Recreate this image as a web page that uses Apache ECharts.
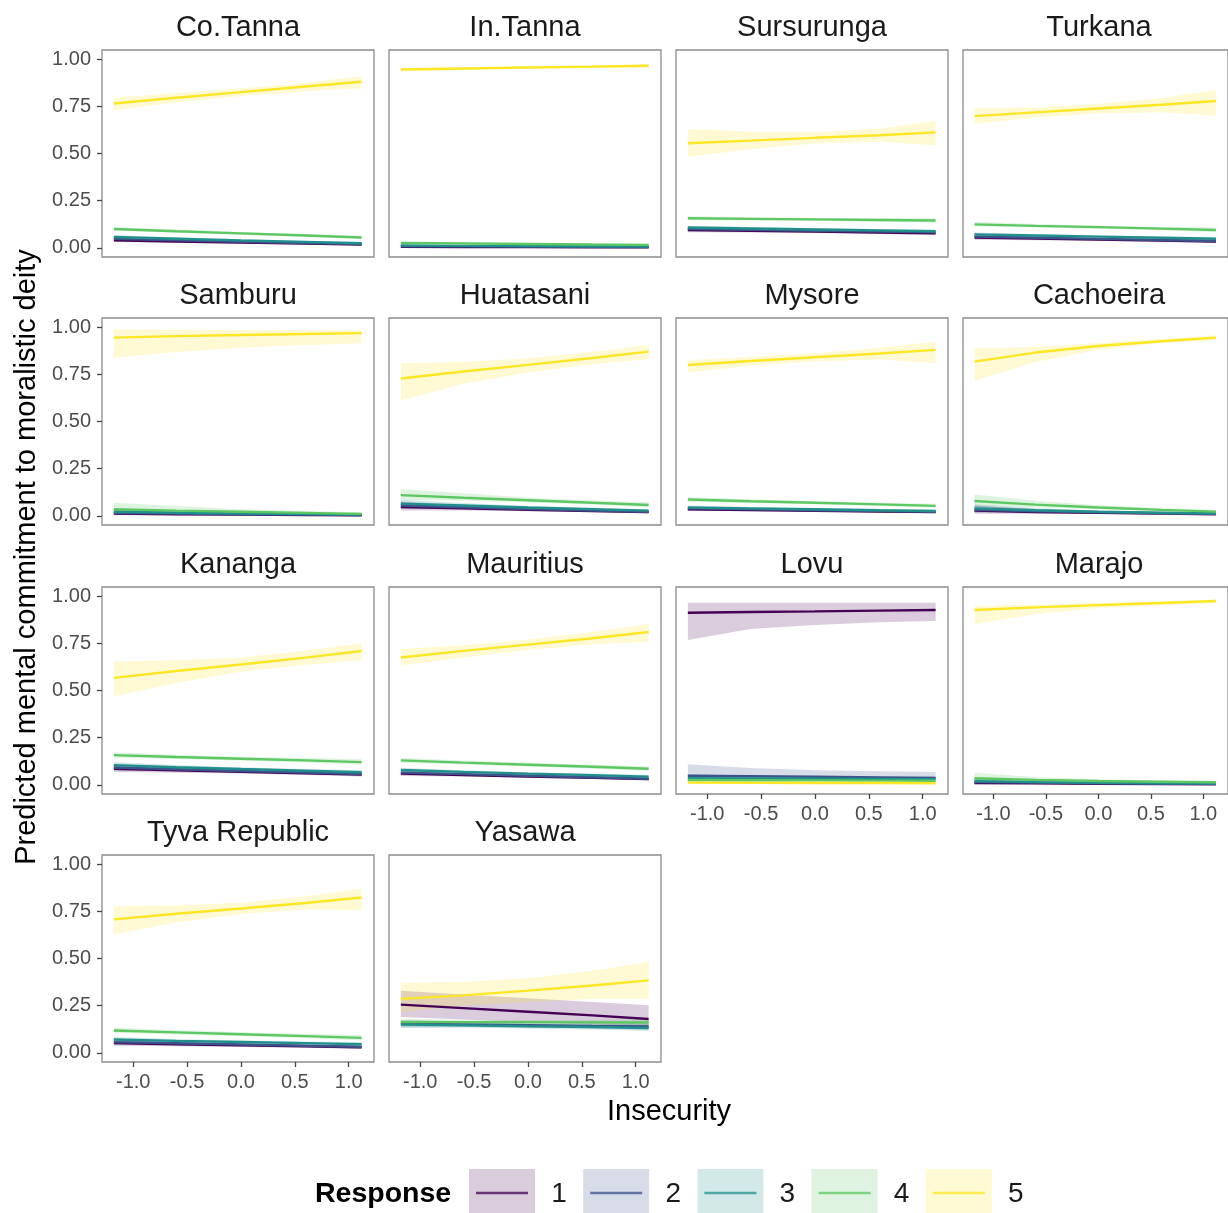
<!DOCTYPE html>
<html>
<head>
<meta charset="utf-8">
<title>Predicted mental commitment to moralistic deity</title>
<script src="https://cdn.jsdelivr.net/npm/echarts@6/dist/echarts.min.js"></script>
<style>
  html, body { margin: 0; padding: 0; background: #ffffff; }
  #chart { width: 1228px; height: 1213px; }
</style>
</head>
<body>
<div id="chart"></div>
<script>
// Field sites, one facet each (row-major, four per row)
const sites = ['Co.Tanna', 'In.Tanna', 'Sursurunga', 'Turkana',
  'Samburu', 'Huatasani', 'Mysore', 'Cachoeira',
  'Kananga', 'Mauritius', 'Lovu', 'Marajo',
  'Tyva Republic', 'Yasawa'];

// Insecurity values at which predictions are evaluated
const insecurity = [-1.18, -0.6, 0, 0.6, 1.12];

const responses = ['1', '2', '3', '4', '5'];
const responseColors = ['#440154', '#3B528B', '#21908C', '#5DC863', '#FDE725'];

const yTicks = [0, 0.25, 0.5, 0.75, 1];
const xTicks = [-1, -0.5, 0, 0.5, 1];

// Response 1: predicted probability, lower and upper bound (one row per site)
const fitR1 = [
  [0.040, 0.034, 0.028, 0.023, 0.018], [0.006, 0.005, 0.005, 0.004, 0.004],
  [0.095, 0.091, 0.087, 0.082, 0.078], [0.055, 0.050, 0.044, 0.039, 0.034],
  [0.012, 0.009, 0.007, 0.005, 0.004], [0.047, 0.040, 0.033, 0.026, 0.020],
  [0.035, 0.031, 0.027, 0.023, 0.020], [0.028, 0.021, 0.016, 0.012, 0.009],
  [0.085, 0.077, 0.069, 0.062, 0.055], [0.060, 0.052, 0.045, 0.038, 0.031],
  [0.912, 0.916, 0.919, 0.923, 0.926], [0.010, 0.008, 0.006, 0.005, 0.004],
  [0.052, 0.046, 0.040, 0.035, 0.030], [0.256, 0.237, 0.218, 0.199, 0.180]
];
const loR1 = [
  [0.031, 0.027, 0.023, 0.018, 0.013], [0.002, 0.002, 0.002, 0.002, 0.001],
  [0.083, 0.082, 0.079, 0.074, 0.067], [0.043, 0.041, 0.037, 0.032, 0.026],
  [0.003, 0.003, 0.003, 0.002, 0.001], [0.029, 0.029, 0.025, 0.019, 0.013],
  [0.026, 0.025, 0.022, 0.018, 0.014], [0.011, 0.011, 0.010, 0.008, 0.005],
  [0.068, 0.065, 0.060, 0.053, 0.044], [0.047, 0.044, 0.038, 0.031, 0.024],
  [0.768, 0.825, 0.847, 0.861, 0.868], [0.003, 0.003, 0.003, 0.002, 0.002],
  [0.038, 0.036, 0.032, 0.027, 0.021], [0.190, 0.177, 0.163, 0.150, 0.138]
];
const hiR1 = [
  [0.050, 0.041, 0.034, 0.028, 0.024], [0.013, 0.010, 0.009, 0.008, 0.008],
  [0.107, 0.100, 0.095, 0.091, 0.090], [0.068, 0.060, 0.052, 0.047, 0.044],
  [0.035, 0.022, 0.015, 0.011, 0.010], [0.072, 0.055, 0.042, 0.034, 0.029],
  [0.046, 0.038, 0.033, 0.029, 0.027], [0.055, 0.036, 0.025, 0.019, 0.016],
  [0.104, 0.090, 0.078, 0.071, 0.066], [0.075, 0.061, 0.052, 0.045, 0.039],
  [0.965, 0.965, 0.965, 0.965, 0.965], [0.030, 0.019, 0.013, 0.010, 0.009],
  [0.068, 0.057, 0.049, 0.043, 0.039], [0.329, 0.310, 0.290, 0.270, 0.253]
];

// Response 2
const fitR2 = [
  [0.048, 0.040, 0.033, 0.026, 0.020], [0.009, 0.008, 0.007, 0.006, 0.005],
  [0.100, 0.096, 0.091, 0.087, 0.083], [0.060, 0.054, 0.048, 0.042, 0.037],
  [0.016, 0.012, 0.009, 0.007, 0.005], [0.055, 0.046, 0.037, 0.029, 0.022],
  [0.040, 0.035, 0.030, 0.026, 0.022], [0.033, 0.025, 0.019, 0.014, 0.011],
  [0.092, 0.083, 0.074, 0.066, 0.058], [0.065, 0.057, 0.049, 0.041, 0.033],
  [0.049, 0.046, 0.043, 0.040, 0.037], [0.015, 0.012, 0.009, 0.007, 0.006],
  [0.057, 0.051, 0.045, 0.038, 0.032], [0.155, 0.151, 0.147, 0.143, 0.140]
];
const loR2 = [
  [0.040, 0.034, 0.028, 0.021, 0.015], [0.005, 0.005, 0.004, 0.003, 0.003],
  [0.090, 0.088, 0.085, 0.080, 0.074], [0.050, 0.047, 0.042, 0.036, 0.030],
  [0.007, 0.006, 0.005, 0.004, 0.002], [0.039, 0.036, 0.030, 0.023, 0.016],
  [0.032, 0.029, 0.025, 0.021, 0.017], [0.017, 0.016, 0.014, 0.010, 0.007],
  [0.077, 0.072, 0.066, 0.058, 0.048], [0.054, 0.049, 0.042, 0.034, 0.026],
  [0.025, 0.028, 0.028, 0.027, 0.024], [0.006, 0.006, 0.005, 0.004, 0.003],
  [0.045, 0.042, 0.037, 0.031, 0.024], [0.135, 0.137, 0.135, 0.130, 0.123]
];
const hiR2 = [
  [0.057, 0.047, 0.039, 0.031, 0.026], [0.014, 0.012, 0.010, 0.009, 0.008],
  [0.110, 0.104, 0.098, 0.094, 0.092], [0.071, 0.062, 0.055, 0.049, 0.045],
  [0.034, 0.023, 0.016, 0.012, 0.010], [0.076, 0.059, 0.045, 0.036, 0.030],
  [0.050, 0.042, 0.036, 0.032, 0.029], [0.055, 0.037, 0.026, 0.020, 0.017],
  [0.108, 0.095, 0.083, 0.075, 0.069], [0.077, 0.066, 0.056, 0.049, 0.042],
  [0.110, 0.090, 0.078, 0.072, 0.068], [0.034, 0.022, 0.015, 0.011, 0.010],
  [0.071, 0.061, 0.053, 0.046, 0.042], [0.175, 0.166, 0.159, 0.156, 0.157]
];

// Response 3
const fitR3 = [
  [0.058, 0.049, 0.040, 0.032, 0.025], [0.013, 0.011, 0.010, 0.009, 0.008],
  [0.108, 0.103, 0.098, 0.093, 0.088], [0.072, 0.066, 0.060, 0.054, 0.049],
  [0.022, 0.017, 0.013, 0.010, 0.007], [0.065, 0.055, 0.045, 0.036, 0.028],
  [0.045, 0.040, 0.035, 0.030, 0.026], [0.040, 0.030, 0.022, 0.017, 0.013],
  [0.105, 0.094, 0.084, 0.075, 0.067], [0.079, 0.069, 0.060, 0.052, 0.044],
  [0.035, 0.034, 0.033, 0.032, 0.031], [0.020, 0.015, 0.011, 0.009, 0.007],
  [0.071, 0.064, 0.058, 0.052, 0.046], [0.150, 0.146, 0.141, 0.137, 0.132]
];
const loR3 = [
  [0.050, 0.043, 0.035, 0.027, 0.020], [0.009, 0.008, 0.007, 0.006, 0.005],
  [0.099, 0.096, 0.092, 0.086, 0.079], [0.063, 0.059, 0.054, 0.047, 0.041],
  [0.012, 0.011, 0.009, 0.007, 0.004], [0.048, 0.044, 0.038, 0.030, 0.021],
  [0.037, 0.034, 0.030, 0.025, 0.020], [0.024, 0.021, 0.017, 0.012, 0.008],
  [0.090, 0.083, 0.076, 0.066, 0.056], [0.068, 0.061, 0.053, 0.045, 0.036],
  [0.020, 0.023, 0.024, 0.023, 0.021], [0.010, 0.009, 0.007, 0.005, 0.004],
  [0.059, 0.055, 0.050, 0.044, 0.037], [0.133, 0.133, 0.130, 0.124, 0.116]
];
const hiR3 = [
  [0.067, 0.056, 0.046, 0.037, 0.031], [0.018, 0.015, 0.013, 0.012, 0.011],
  [0.118, 0.111, 0.105, 0.100, 0.097], [0.082, 0.074, 0.067, 0.061, 0.058],
  [0.040, 0.028, 0.020, 0.015, 0.012], [0.086, 0.068, 0.053, 0.043, 0.036],
  [0.055, 0.047, 0.041, 0.036, 0.033], [0.062, 0.042, 0.029, 0.023, 0.020],
  [0.121, 0.106, 0.093, 0.085, 0.079], [0.091, 0.078, 0.067, 0.060, 0.053],
  [0.058, 0.048, 0.044, 0.043, 0.044], [0.038, 0.025, 0.017, 0.013, 0.011],
  [0.085, 0.074, 0.066, 0.060, 0.056], [0.168, 0.160, 0.153, 0.150, 0.149]
];

// Response 4
const fitR4 = [
  [0.100, 0.088, 0.077, 0.066, 0.055], [0.027, 0.024, 0.021, 0.018, 0.016],
  [0.157, 0.154, 0.151, 0.148, 0.145], [0.125, 0.117, 0.110, 0.102, 0.095],
  [0.035, 0.028, 0.022, 0.016, 0.011], [0.110, 0.096, 0.083, 0.070, 0.058],
  [0.087, 0.078, 0.070, 0.061, 0.053], [0.079, 0.060, 0.045, 0.032, 0.023],
  [0.158, 0.148, 0.139, 0.130, 0.121], [0.130, 0.118, 0.107, 0.096, 0.086],
  [0.026, 0.025, 0.024, 0.023, 0.022], [0.035, 0.027, 0.021, 0.017, 0.014],
  [0.119, 0.109, 0.099, 0.089, 0.080], [0.164, 0.163, 0.163, 0.162, 0.161]
];
const loR4 = [
  [0.091, 0.080, 0.070, 0.059, 0.048], [0.022, 0.020, 0.018, 0.015, 0.012],
  [0.146, 0.145, 0.143, 0.139, 0.134], [0.113, 0.108, 0.102, 0.093, 0.083],
  [0.020, 0.018, 0.015, 0.011, 0.007], [0.085, 0.080, 0.072, 0.060, 0.046],
  [0.075, 0.069, 0.062, 0.053, 0.043], [0.055, 0.045, 0.035, 0.025, 0.016],
  [0.144, 0.137, 0.129, 0.119, 0.107], [0.117, 0.108, 0.098, 0.086, 0.074],
  [0.017, 0.019, 0.019, 0.018, 0.016], [0.020, 0.018, 0.015, 0.012, 0.009],
  [0.105, 0.098, 0.089, 0.078, 0.066], [0.148, 0.151, 0.152, 0.149, 0.143]
];
const hiR4 = [
  [0.110, 0.097, 0.085, 0.074, 0.063], [0.033, 0.029, 0.025, 0.022, 0.020],
  [0.168, 0.163, 0.159, 0.157, 0.157], [0.138, 0.127, 0.118, 0.112, 0.108],
  [0.070, 0.052, 0.035, 0.026, 0.020], [0.142, 0.120, 0.097, 0.082, 0.072],
  [0.100, 0.088, 0.078, 0.070, 0.064], [0.114, 0.080, 0.057, 0.042, 0.032],
  [0.173, 0.160, 0.149, 0.142, 0.136], [0.144, 0.129, 0.117, 0.107, 0.099],
  [0.038, 0.033, 0.030, 0.029, 0.029], [0.065, 0.042, 0.030, 0.023, 0.020],
  [0.134, 0.121, 0.110, 0.101, 0.095], [0.181, 0.176, 0.174, 0.176, 0.180]
];

// Response 5
const fitR5 = [
  [0.765, 0.795, 0.825, 0.855, 0.880], [0.945, 0.950, 0.955, 0.960, 0.965],
  [0.554, 0.568, 0.583, 0.597, 0.612], [0.698, 0.718, 0.738, 0.758, 0.778],
  [0.944, 0.952, 0.958, 0.963, 0.968], [0.728, 0.765, 0.800, 0.836, 0.870],
  [0.799, 0.820, 0.840, 0.860, 0.879], [0.817, 0.865, 0.900, 0.925, 0.944],
  [0.567, 0.603, 0.638, 0.674, 0.709], [0.675, 0.710, 0.743, 0.777, 0.810],
  [0.012, 0.011, 0.010, 0.010, 0.009], [0.926, 0.940, 0.952, 0.963, 0.974],
  [0.707, 0.737, 0.765, 0.794, 0.823], [0.286, 0.305, 0.330, 0.357, 0.384]
];
const loR5 = [
  [0.730, 0.770, 0.805, 0.830, 0.845], [0.935, 0.943, 0.949, 0.953, 0.955],
  [0.483, 0.523, 0.553, 0.562, 0.543], [0.656, 0.690, 0.712, 0.718, 0.700],
  [0.838, 0.868, 0.890, 0.905, 0.914], [0.611, 0.700, 0.760, 0.803, 0.830],
  [0.760, 0.795, 0.818, 0.828, 0.809], [0.716, 0.815, 0.880, 0.915, 0.930],
  [0.470, 0.540, 0.600, 0.635, 0.662], [0.632, 0.675, 0.715, 0.745, 0.758],
  [0.006, 0.006, 0.006, 0.005, 0.005], [0.851, 0.905, 0.935, 0.952, 0.962],
  [0.627, 0.690, 0.735, 0.760, 0.756], [0.215, 0.250, 0.270, 0.285, 0.285]
];
const hiR5 = [
  [0.795, 0.820, 0.845, 0.875, 0.910], [0.953, 0.957, 0.961, 0.966, 0.972],
  [0.630, 0.615, 0.613, 0.632, 0.674], [0.739, 0.745, 0.763, 0.793, 0.836],
  [0.988, 0.986, 0.985, 0.984, 0.983], [0.809, 0.815, 0.835, 0.868, 0.905],
  [0.825, 0.843, 0.862, 0.890, 0.922], [0.886, 0.895, 0.915, 0.937, 0.957],
  [0.653, 0.660, 0.675, 0.710, 0.751], [0.720, 0.740, 0.770, 0.810, 0.854],
  [0.022, 0.018, 0.016, 0.015, 0.016], [0.947, 0.955, 0.963, 0.972, 0.982],
  [0.777, 0.780, 0.795, 0.830, 0.871], [0.371, 0.375, 0.395, 0.435, 0.482]
];

const fitSets = [fitR1, fitR2, fitR3, fitR4, fitR5];
const loSets = [loR1, loR2, loR3, loR4, loR5];
const hiSets = [hiR1, hiR2, hiR3, hiR4, hiR5];

// ---- facet layout ----
const FONT = '"Liberation Sans", Arial, Helvetica, sans-serif';
const colLeft = [102, 389, 676, 963];
const rowTop = [50, 318, 587, 855];
const panelW = 272;
const panelH = 207;
const xRange = [-1.29, 1.235];
const yRange = [-0.048, 1.048];
// facets that carry the x axis labels (last facet in each column)
const bottomFacets = [10, 11, 12, 13];

function rgba(hex, a) {
  const n = parseInt(hex.slice(1), 16);
  return 'rgba(' + ((n >> 16) & 255) + ',' + ((n >> 8) & 255) + ',' + (n & 255) + ',' + a + ')';
}

const grids = [], xAxes = [], yAxes = [], series = [], graphics = [];

sites.forEach((site, i) => {
  const row = Math.floor(i / 4), col = i % 4;
  const left = colLeft[col], top = rowTop[row];
  const showX = bottomFacets.indexOf(i) >= 0;
  const showY = col === 0;

  grids.push({
    left: left, top: top, width: panelW, height: panelH,
    show: true, borderColor: '#8c8c8c', borderWidth: 1.3,
    backgroundColor: 'transparent', containLabel: false
  });

  xAxes.push({
    type: 'value', gridIndex: i, min: xRange[0], max: xRange[1], position: 'bottom',
    axisLine: { show: false, onZero: false },
    splitLine: { show: false },
    axisTick: { show: showX, length: 5, lineStyle: { color: '#444', width: 1.3 }, customValues: xTicks },
    axisLabel: {
      show: showX, customValues: xTicks, margin: 10,
      fontFamily: FONT, fontSize: 20, color: '#4d4d4d',
      formatter: v => v.toFixed(1)
    }
  });

  yAxes.push({
    type: 'value', gridIndex: i, min: yRange[0], max: yRange[1], position: 'left',
    axisLine: { show: false, onZero: false },
    splitLine: { show: false },
    axisTick: { show: showY, length: 5, lineStyle: { color: '#444', width: 1.3 }, customValues: yTicks },
    axisLabel: {
      show: showY, customValues: yTicks, margin: 11,
      fontFamily: FONT, fontSize: 20, color: '#4d4d4d',
      formatter: v => v.toFixed(2)
    }
  });

  // confidence ribbons
  responses.forEach((resp, r) => {
    const lo = loSets[r][i], hi = hiSets[r][i];
    series.push({
      type: 'custom', name: resp, xAxisIndex: i, yAxisIndex: i,
      z: 1, silent: true, animation: false,
      data: insecurity.map((x, k) => [x, lo[k], hi[k]]),
      encode: { x: 0, y: [1, 2] },
      renderItem: function (params, api) {
        if (params.dataIndex !== 0) return null;
        const pts = [];
        for (let k = 0; k < insecurity.length; k++) pts.push(api.coord([insecurity[k], hi[k]]));
        for (let k = insecurity.length - 1; k >= 0; k--) pts.push(api.coord([insecurity[k], lo[k]]));
        return {
          type: 'polygon',
          shape: { points: pts },
          style: { fill: rgba(responseColors[r], 0.2), stroke: null }
        };
      }
    });
  });

  // predicted probability lines
  responses.forEach((resp, r) => {
    const fit = fitSets[r][i];
    series.push({
      type: 'line', name: resp, xAxisIndex: i, yAxisIndex: i,
      z: 2, silent: true, animation: false,
      showSymbol: false, symbol: 'none',
      data: insecurity.map((x, k) => [x, fit[k]]),
      lineStyle: { color: responseColors[r], width: 2.4 }
    });
  });

  // facet strip label
  graphics.push({
    type: 'text', x: left + panelW / 2, y: top - 22,
    style: {
      text: site, fontFamily: FONT, fontSize: 29, fill: '#1a1a1a',
      align: 'center', verticalAlign: 'middle'
    }
  });
});

// axis titles
graphics.push({
  type: 'text', x: 669, y: 1112,
  style: { text: 'Insecurity', fontFamily: FONT, fontSize: 29, fill: '#000',
    align: 'center', verticalAlign: 'middle' }
});
graphics.push({
  type: 'text', x: 27, y: 557, rotation: Math.PI / 2,
  style: { text: 'Predicted mental commitment to moralistic deity', fontFamily: FONT,
    fontSize: 29, fill: '#000', align: 'center', verticalAlign: 'middle' }
});

// legend
graphics.push({
  type: 'text', x: 315, y: 1194,
  style: { text: 'Response', fontFamily: FONT, fontSize: 28.5, fontWeight: 'bold',
    fill: '#000', align: 'left', verticalAlign: 'middle' }
});
responses.forEach((resp, r) => {
  const kx = 469 + r * 114.2;
  graphics.push({
    type: 'rect', shape: { x: kx, y: 1169, width: 66, height: 48 },
    style: { fill: rgba(responseColors[r], 0.2) }
  });
  graphics.push({
    type: 'line', shape: { x1: kx + 7, y1: 1193, x2: kx + 59, y2: 1193 },
    style: { stroke: responseColors[r], lineWidth: 2.5, opacity: 0.75 }
  });
  graphics.push({
    type: 'text', x: kx + 90, y: 1194,
    style: { text: resp, fontFamily: FONT, fontSize: 28, fill: '#1a1a1a',
      align: 'center', verticalAlign: 'middle' }
  });
});

const chart = echarts.init(document.getElementById('chart'), null, { renderer: 'canvas' });
chart.setOption({
  backgroundColor: '#ffffff',
  animation: false,
  grid: grids,
  xAxis: xAxes,
  yAxis: yAxes,
  series: series,
  graphic: graphics
});
</script>
</body>
</html>
